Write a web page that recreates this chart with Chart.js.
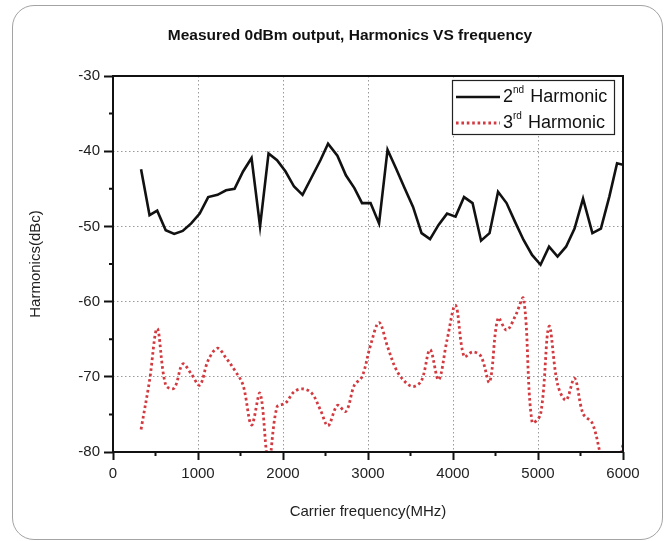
<!DOCTYPE html>
<html lang="en">
<head>
    <meta charset="UTF-8">
    <title>Measured 0dBm output, Harmonics VS frequency</title>
    <style>
        * { margin: 0; padding: 0; box-sizing: border-box; }

        body {
            background: #fff;
            width: 666px;
            height: 541px;
            position: relative;
            overflow: hidden;
        }

        /* rounded outer frame of the figure */
        .frame {
            position: absolute;
            left: 12px;
            top: 5px;
            width: 651px;
            height: 535px;
            border: 1.5px solid #a3a3a3;
            border-radius: 22px;
        }

        canvas { position: absolute; left: 0; top: 0; }
    </style>
</head>
<body>
    <div class="frame"></div>
    <canvas id="chart" width="666" height="541"></canvas>

    <script src="https://cdn.jsdelivr.net/npm/chart.js"></script>
    <script>
        const chartTitle = 'Measured 0dBm output, Harmonics VS frequency';

        // carrier frequency (MHz) of each measurement
        const freqMHz = [330, 430, 520, 620, 720, 820, 920, 1020, 1120, 1230,
                         1330, 1430, 1530, 1630, 1730, 1830, 1930, 2030, 2130, 2230,
                         2340, 2440, 2530, 2640, 2740, 2840, 2930, 3030, 3130, 3230,
                         3330, 3430, 3530, 3630, 3730, 3830, 3930, 4030, 4130, 4230,
                         4330, 4430, 4530, 4630, 4730, 4830, 4930, 5030, 5130, 5230,
                         5330, 5430, 5530, 5640, 5740, 5840, 5930, 6000];

        // 2nd harmonic level (dBc)
        const harmonic2 = [-42.4, -48.5, -47.9, -50.5, -51.0, -50.6, -49.6, -48.3, -46.1, -45.8,
                           -45.2, -45.0, -42.7, -40.9, -50.0, -40.3, -41.2, -42.7, -44.7, -45.8,
                           -43.4, -41.2, -39.0, -40.6, -43.2, -44.9, -46.9, -46.9, -49.6, -39.8,
                           -42.3, -44.9, -47.4, -50.9, -51.7, -49.8, -48.3, -48.7, -46.1, -46.9,
                           -51.9, -50.9, -45.4, -46.9, -49.4, -51.8, -53.8, -55.1, -52.7, -54.0,
                           -52.7, -50.3, -46.3, -50.9, -50.3, -46.0, -41.6, -41.8];

        // 3rd harmonic level (dBc)
        const harmonic3 = [-77.0, -70.5, -63.6, -71.1, -71.5, -68.3, -69.6, -71.1, -67.8, -66.2,
                           -67.5, -69.1, -71.1, -76.4, -72.2, -81.5, -74.0, -73.5, -72.0, -71.6,
                           -72.2, -74.4, -76.5, -73.8, -74.6, -71.1, -70.0, -65.8, -62.8, -66.0,
                           -69.0, -70.6, -71.3, -70.5, -66.4, -70.4, -65.1, -60.5, -67.3, -66.7,
                           -67.3, -70.7, -62.2, -63.8, -62.0, -59.6, -76.0, -75.0, -63.3, -71.0,
                           -73.1, -70.2, -74.9, -76.2, -80.5, -84.0, -83.0, -79.0];

        const seriesLabels = ['2nd Harmonic', '3rd Harmonic'];

        // minor tick positions
        const xMinor = [500, 1500, 2500, 3500, 4500, 5500];
        const yMinor = [-75, -65, -55, -45, -35];

        const fontFamily = "'Liberation Sans', Arial, sans-serif";
        Chart.defaults.font.family = fontFamily;
        Chart.defaults.color = '#222';

        // figure title, centred on the figure rather than the canvas
        const figureTitle = {
            id: 'figureTitle',
            afterDraw(chart) {
                const { ctx } = chart;
                ctx.save();
                ctx.fillStyle = '#111';
                ctx.font = 'bold 15.5px ' + fontFamily;
                ctx.textAlign = 'center';
                ctx.textBaseline = 'middle';
                ctx.fillText(chartTitle, 350, 36);
                ctx.restore();
            }
        };

        // full box around the plot + the short minor ticks
        const frameAndMinor = {
            id: 'frameAndMinor',
            afterDraw(chart) {
                const { ctx, chartArea: a, scales: { x, y } } = chart;
                ctx.save();
                ctx.strokeStyle = '#111';
                ctx.lineWidth = 2;
                ctx.beginPath();
                xMinor.forEach(v => {
                    const px = x.getPixelForValue(v);
                    ctx.moveTo(px, a.bottom);
                    ctx.lineTo(px, a.bottom + 4);
                });
                yMinor.forEach(v => {
                    const py = y.getPixelForValue(v);
                    ctx.moveTo(a.left - 4, py);
                    ctx.lineTo(a.left, py);
                });
                ctx.stroke();
                ctx.strokeRect(a.left, a.top, a.width, a.height);
                ctx.restore();
            }
        };

        // boxed legend with superscript ordinals
        const boxLegend = {
            id: 'boxLegend',
            afterDraw(chart) {
                const { ctx, chartArea: a } = chart;
                const w = 162, h = 54;
                const left = a.right - 9 - w, top = a.top + 4;
                ctx.save();
                ctx.fillStyle = '#fff';
                ctx.fillRect(left, top, w, h);
                ctx.strokeStyle = '#222';
                ctx.lineWidth = 1.2;
                ctx.strokeRect(left + 0.5, top + 0.5, w, h);

                chart.data.datasets.forEach((ds, i) => {
                    const cy = top + 17 + i * 26;
                    ctx.beginPath();
                    ctx.setLineDash(ds.borderDash || []);
                    ctx.strokeStyle = ds.borderColor;
                    ctx.lineWidth = ds.borderWidth;
                    ctx.moveTo(left + 4, cy);
                    ctx.lineTo(left + 48, cy);
                    ctx.stroke();
                    ctx.setLineDash([]);

                    const m = ds.label.match(/^(\d+)(st|nd|rd|th)\s(.*)$/);
                    let tx = left + 51;
                    ctx.fillStyle = '#111';
                    ctx.textBaseline = 'middle';
                    ctx.font = '18px ' + fontFamily;
                    ctx.fillText(m[1], tx, cy);
                    tx += ctx.measureText(m[1]).width;
                    ctx.font = '10px ' + fontFamily;
                    ctx.fillText(m[2], tx, cy - 7);
                    tx += ctx.measureText(m[2]).width + 6;
                    ctx.font = '18px ' + fontFamily;
                    ctx.fillText(m[3], tx, cy);
                });
                ctx.restore();
            }
        };

        const gridDash = [1.5, 2.5];

        new Chart(document.getElementById('chart'), {
            type: 'line',
            data: {
                datasets: [
                    {
                        label: seriesLabels[0],
                        data: freqMHz.map((f, i) => ({ x: f, y: harmonic2[i] })),
                        borderColor: '#111',
                        borderWidth: 2.6,
                        pointRadius: 0,
                        tension: 0
                    },
                    {
                        label: seriesLabels[1],
                        data: freqMHz.map((f, i) => ({ x: f, y: harmonic3[i] })),
                        borderColor: '#d23a40',
                        borderWidth: 2.8,
                        borderDash: [2.6, 2.8],
                        pointRadius: 0,
                        tension: 0.35
                    }
                ]
            },
            options: {
                responsive: false,
                animation: false,
                layout: { padding: { left: 0, right: 43, top: 76, bottom: 0 } },
                plugins: {
                    legend: { display: false },
                    tooltip: { enabled: false },
                    title: { display: false }
                },
                scales: {
                    x: {
                        type: 'linear',
                        min: 0,
                        max: 6000,
                        afterFit(s) { s.height = 89; },
                        ticks: {
                            stepSize: 1000,
                            padding: 5,
                            maxRotation: 0,
                            font: { size: 15 },
                            callback: v => String(v)
                        },
                        grid: { color: '#9a9a9a', lineWidth: 1, tickColor: '#111', tickWidth: 2, tickLength: 8 },
                        border: { display: false, dash: gridDash },
                        title: {
                            display: true,
                            text: 'Carrier frequency(MHz)',
                            font: { size: 15 },
                            padding: { top: 0, bottom: 20 }
                        }
                    },
                    y: {
                        min: -80,
                        max: -30,
                        afterFit(s) { s.width = 113; },
                        ticks: { stepSize: 10, padding: 4, font: { size: 15 } },
                        grid: { color: '#9a9a9a', lineWidth: 1, tickColor: '#111', tickWidth: 2, tickLength: 9 },
                        border: { display: false, dash: gridDash },
                        title: {
                            display: true,
                            text: 'Harmonics(dBc)',
                            font: { size: 15 },
                            padding: { top: 27, bottom: 0 }
                        }
                    }
                }
            },
            plugins: [figureTitle, frameAndMinor, boxLegend]
        });
    </script>
</body>
</html>
